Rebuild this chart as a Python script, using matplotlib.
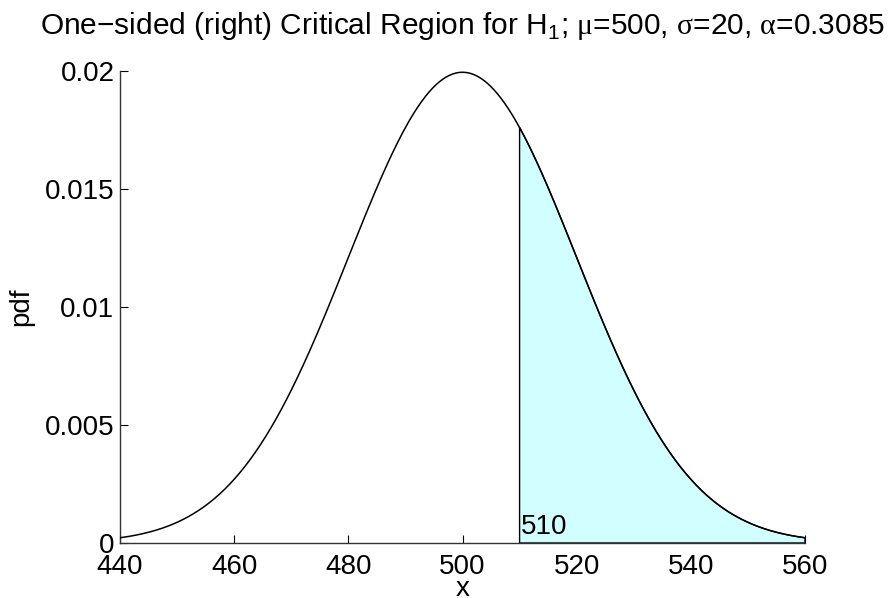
import numpy as np
import matplotlib
matplotlib.use("Agg")
import matplotlib.pyplot as plt

plt.rcParams["font.family"] = ["Liberation Sans", "DejaVu Sans"]
plt.rcParams["mathtext.fontset"] = "custom"
plt.rcParams["mathtext.rm"] = "Liberation Serif"
plt.rcParams["mathtext.sf"] = "Liberation Sans"

# values from the chart
mu = 500
sigma = 20
alpha = 0.3085
x_lo = 440
x_hi = 560
crit = 510
xticks = [440, 460, 480, 500, 520, 540, 560]
yticks = [0, 0.005, 0.01, 0.015, 0.02]
yticklabels = ["0", "0.005", "0.01", "0.015", "0.02"]


def normpdf(v):
    return np.exp(-0.5 * ((v - mu) / sigma) ** 2) / (sigma * np.sqrt(2 * np.pi))


x = np.linspace(x_lo, x_hi, 400)
pdf = normpdf(x)

fig = plt.figure(figsize=(8.94, 5.98), dpi=100)
ax = fig.add_axes([120 / 894, 55 / 598, 685 / 894, 472 / 598])

# shaded critical region
xr = np.concatenate(([crit], x[x > crit]))
px = np.concatenate(([crit], xr, [x_hi]))
py = np.concatenate(([0], normpdf(xr), [0]))
ax.fill(px, py, facecolor=(0.82, 1, 1), edgecolor="black", linewidth=1.0, zorder=2)

ax.plot(x, pdf, color="black", linewidth=1.1, zorder=3)

ax.text(crit + 0.3, 0.00012, str(crit), fontsize=20, ha="left", va="bottom", zorder=4)

ax.set_xlim(x_lo, x_hi)
ax.set_ylim(0, 0.02)
ax.set_xticks(xticks)
ax.set_yticks(yticks)
ax.set_yticklabels(yticklabels)
ax.tick_params(direction="in", length=6, width=0.8, labelsize=20, pad=4)
ax.tick_params(axis="x", pad=8)
for s in ["top", "right"]:
    ax.spines[s].set_visible(False)
for s in ["left", "bottom"]:
    ax.spines[s].set_color("#333333")
    ax.spines[s].set_linewidth(1.0)

ax.set_xlabel("x", fontsize=20, labelpad=-3)
ax.set_ylabel("pdf", fontsize=20, labelpad=8)
ax.set_title("One\u2212sided (right) Critical Region for H$_\\mathsf{1}$; "
             "$\\mathrm{\\mu}$=500, $\\mathrm{\\sigma}$=20, $\\mathrm{\\alpha}$=" + str(alpha),
             fontsize=21.5, pad=27)

fig.savefig("out.png", dpi=100)
